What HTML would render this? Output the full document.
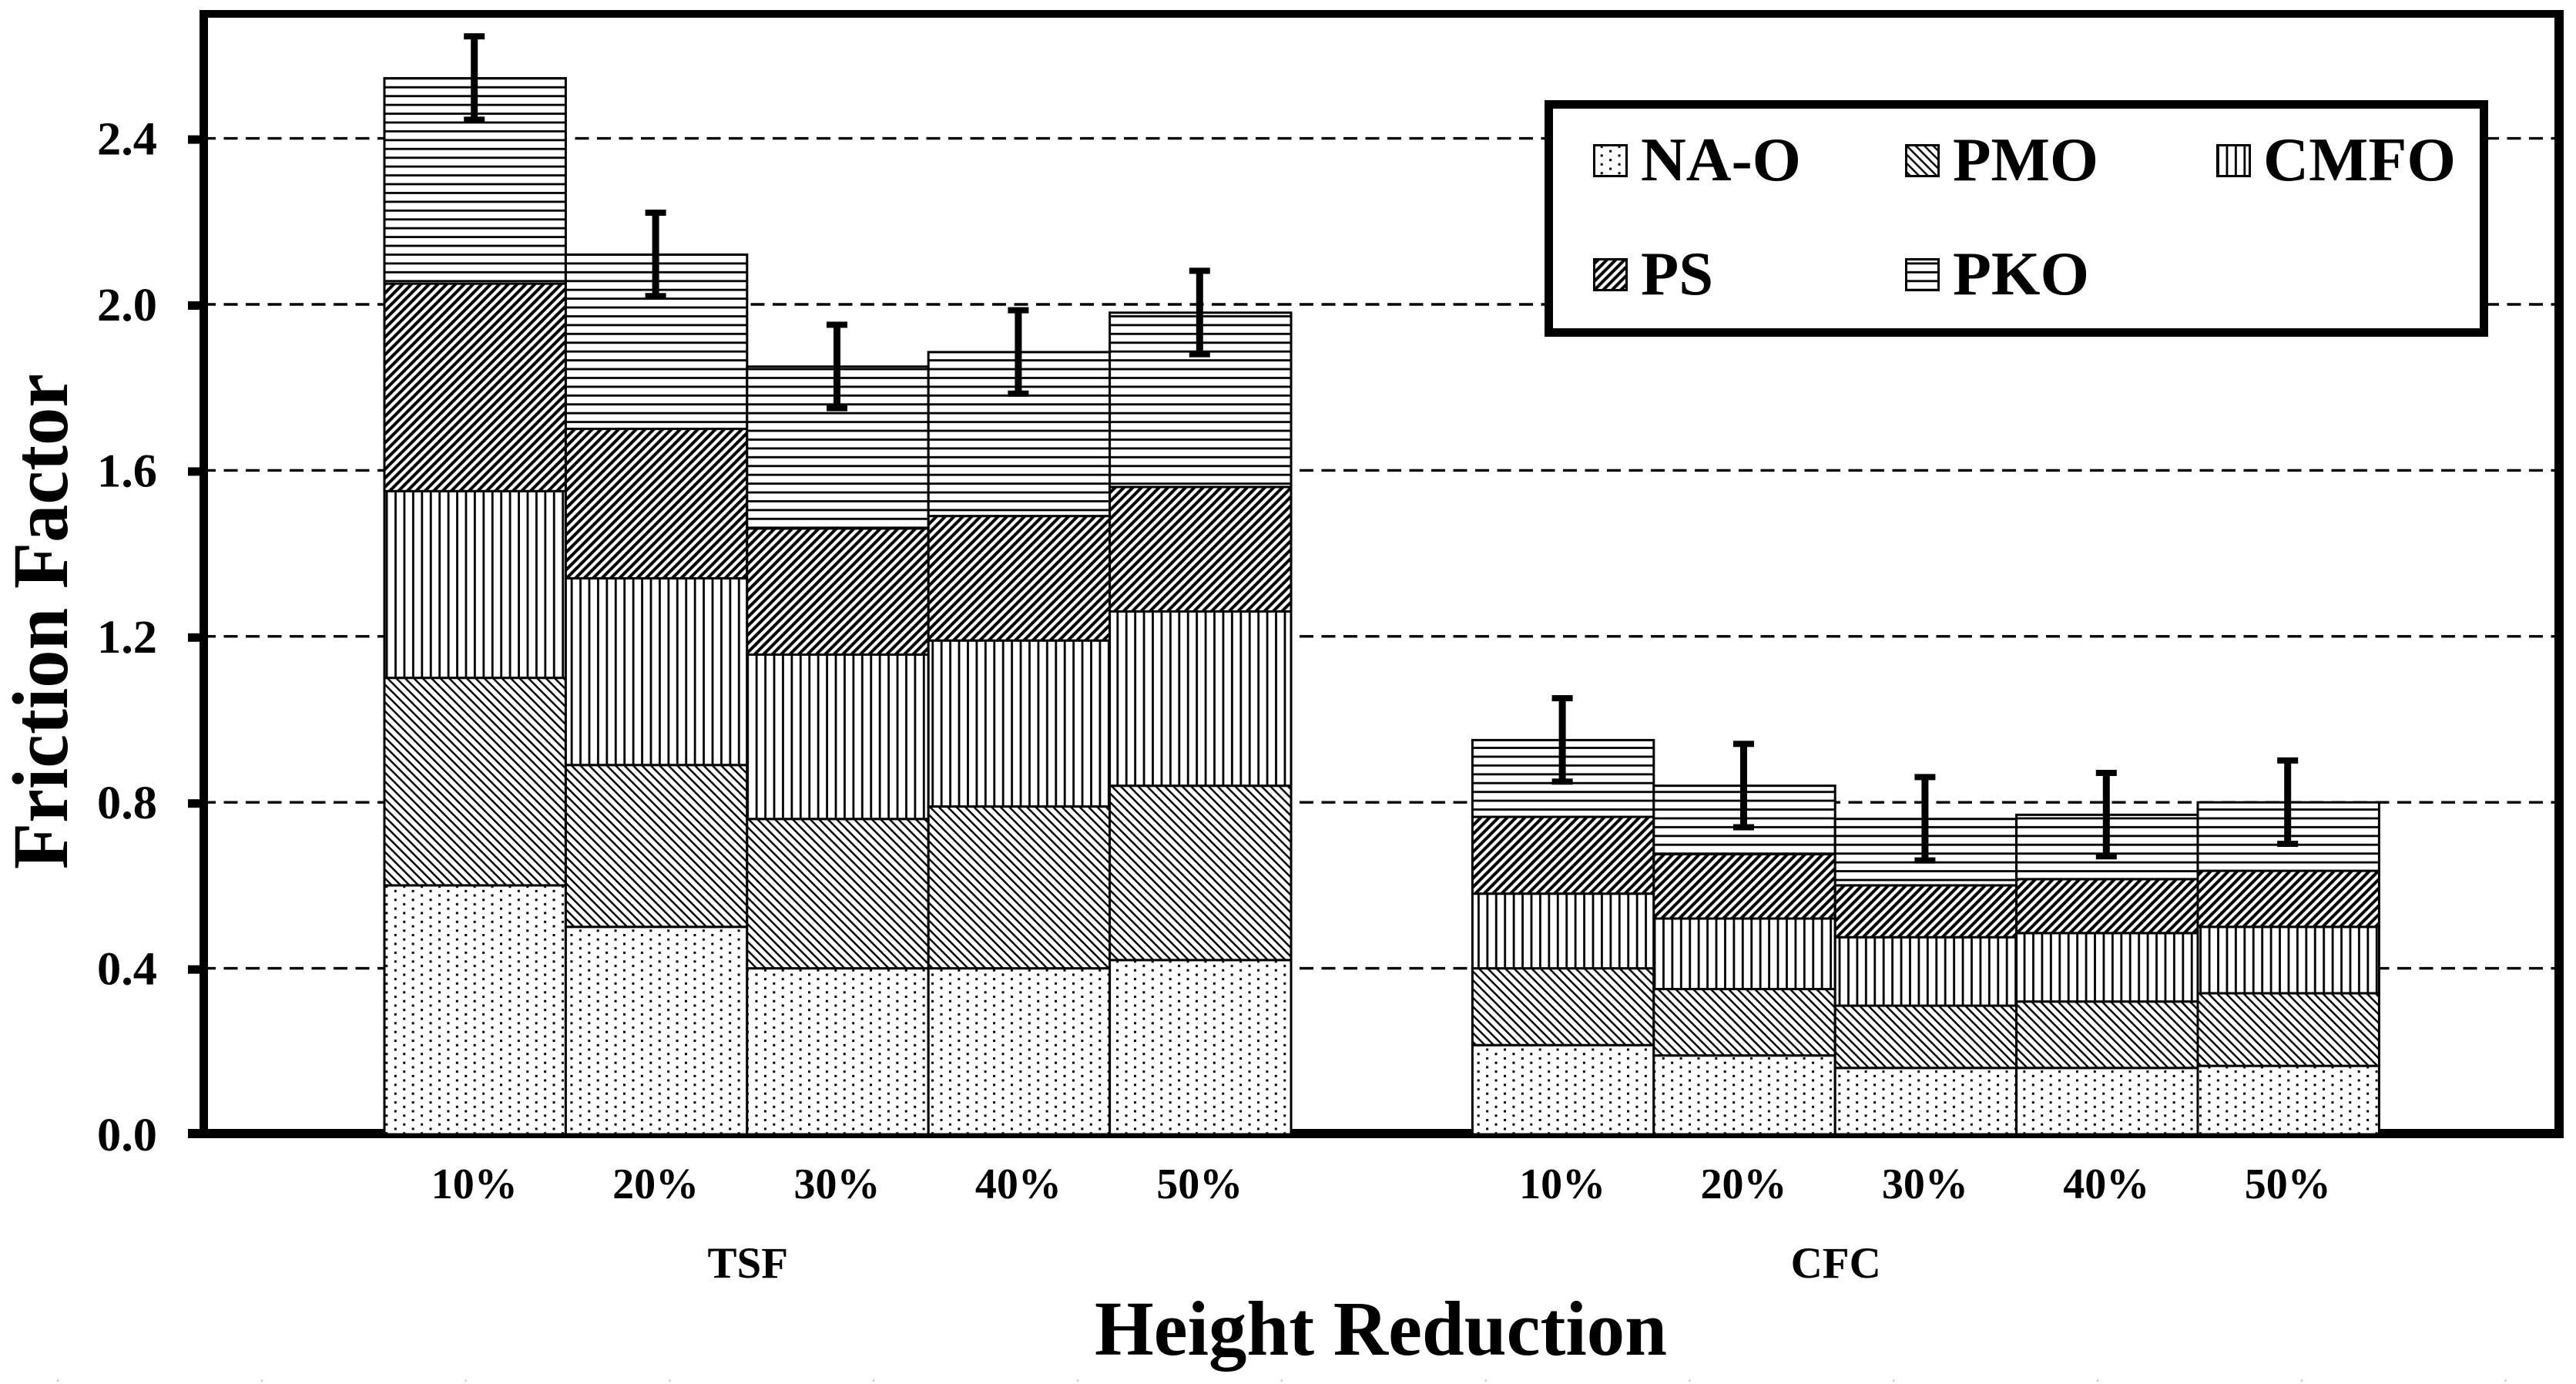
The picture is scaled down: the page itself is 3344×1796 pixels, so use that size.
<!DOCTYPE html>
<html>
<head>
<meta charset="utf-8">
<title>Friction Factor vs Height Reduction</title>
<style>
html,body{margin:0;padding:0;background:#fff;}
svg{display:block;}
text{font-family:"Liberation Serif",serif;font-weight:bold;fill:#000;}
</style>
</head>
<body>
<svg id="chart" xmlns="http://www.w3.org/2000/svg" width="3344" height="1796" viewBox="0 0 3344 1796">
<defs>
<pattern id="p-dots" patternUnits="userSpaceOnUse" width="22.86" height="11.43" patternTransform="translate(10.4 1.9)">
<rect x="-1.5" y="-1.5" width="3" height="3" fill="#000"/><rect x="21.36" y="-1.5" width="3" height="3" fill="#000"/>
<rect x="-1.5" y="9.93" width="3" height="3" fill="#000"/><rect x="21.36" y="9.93" width="3" height="3" fill="#000"/>
<rect x="9.93" y="4.2" width="3" height="3" fill="#000"/>
</pattern>
<pattern id="p-down" patternUnits="userSpaceOnUse" width="11.43" height="11.43">
<path d="M-3 -3L14.43 14.43M-3 8.43L3 14.43M8.43 -3L14.43 3" stroke="#000" stroke-width="2.4" fill="none"/>
</pattern>
<pattern id="p-vert" patternUnits="userSpaceOnUse" width="11.43" height="11.43" patternTransform="translate(10.6 0)">
<rect x="-1.4" y="0" width="2.8" height="11.43" fill="#000"/><rect x="10.03" y="0" width="2.8" height="11.43" fill="#000"/>
</pattern>
<pattern id="p-up" patternUnits="userSpaceOnUse" width="11.43" height="11.43">
<path d="M-3 14.43L14.43 -3M-3 3L3 -3M8.43 14.43L14.43 8.43" stroke="#000" stroke-width="4" fill="none"/>
</pattern>
<pattern id="p-horz" patternUnits="userSpaceOnUse" width="11.43" height="11.43" patternTransform="translate(0 10.4)">
<rect x="0" y="-1.4" width="11.43" height="2.8" fill="#000"/><rect x="0" y="10.03" width="11.43" height="2.8" fill="#000"/>
</pattern>
</defs>
<rect x="0" y="0" width="3344" height="1796" fill="#fff"/>
<g id="grid"></g>
<rect x="244" y="1465" width="3084" height="12" fill="#000"/>
<g id="ticks"></g>
<g id="bars"></g>
<g id="errors"></g>
<g id="xlabels"></g>
<rect x="259" y="13" width="11" height="1458" fill="#000"/>
<rect x="259" y="13" width="3069" height="10" fill="#000"/>
<rect x="3316" y="13" width="12" height="1464" fill="#000"/>
<text transform="translate(87 1128) rotate(-90)" font-size="103" textLength="643" lengthAdjust="spacingAndGlyphs">Friction Factor</text>
<text x="1421" y="1758" font-size="101" textLength="743" lengthAdjust="spacingAndGlyphs">Height Reduction</text>
<g>
<rect x="2010.5" y="135.5" width="1214" height="296" fill="#fff" stroke="#000" stroke-width="11"/>
<g>
<rect x="2069.5" y="188.5" width="42" height="40" fill="#fff"/>
<rect x="2069.5" y="188.5" width="42" height="40" fill="url(#p-dots)" stroke="#000" stroke-width="3"/>
<text x="2130" y="234" font-size="80" textLength="208" lengthAdjust="spacingAndGlyphs">NA-O</text>
</g>
<g>
<rect x="2474.5" y="188.5" width="42" height="40" fill="#fff"/>
<rect x="2474.5" y="188.5" width="42" height="40" fill="url(#p-down)" stroke="#000" stroke-width="3"/>
<text x="2535" y="234" font-size="80" textLength="189" lengthAdjust="spacingAndGlyphs">PMO</text>
</g>
<g>
<rect x="2878.5" y="188.5" width="42" height="40" fill="#fff"/>
<rect x="2878.5" y="188.5" width="42" height="40" fill="url(#p-vert)" stroke="#000" stroke-width="3"/>
<text x="2938" y="234" font-size="80" textLength="250" lengthAdjust="spacingAndGlyphs">CMFO</text>
</g>
<g>
<rect x="2069.5" y="336.5" width="42" height="40" fill="#fff"/>
<rect x="2069.5" y="336.5" width="42" height="40" fill="url(#p-up)" stroke="#000" stroke-width="3"/>
<text x="2130" y="382" font-size="80" textLength="94" lengthAdjust="spacingAndGlyphs">PS</text>
</g>
<g>
<rect x="2474.5" y="336.5" width="42" height="40" fill="#fff"/>
<rect x="2474.5" y="336.5" width="42" height="40" fill="url(#p-horz)" stroke="#000" stroke-width="3"/>
<text x="2535" y="382" font-size="80" textLength="177" lengthAdjust="spacingAndGlyphs">PKO</text>
</g>
</g>
<g id="edge"></g>
</svg>
<script>
var groupNames = ['TSF', 'CFC'];
var reductions = ['10%', '20%', '30%', '40%', '50%'];
var seriesNames = ['NA-O', 'PMO', 'CMFO', 'PS', 'PKO'];
var seriesFills = ['p-dots', 'p-down', 'p-vert', 'p-up', 'p-horz'];
var naO  = [0.60, 0.50, 0.40, 0.40, 0.42, 0.215, 0.19, 0.16, 0.16, 0.165];
var pmo  = [0.50, 0.39, 0.36, 0.39, 0.42, 0.185, 0.16, 0.15, 0.16, 0.175];
var cmfo = [0.45, 0.45, 0.396, 0.40, 0.42, 0.18, 0.17, 0.165, 0.165, 0.16];
var ps   = [0.50, 0.36, 0.304, 0.30, 0.30, 0.185, 0.155, 0.125, 0.13, 0.135];
var pko  = [0.495, 0.42, 0.39, 0.395, 0.42, 0.185, 0.165, 0.16, 0.155, 0.165];
var errors = [0.10, 0.10, 0.10, 0.10, 0.10, 0.10, 0.10, 0.10, 0.10, 0.10];
var yTicks = [0, 0.4, 0.8, 1.2, 1.6, 2.0, 2.4];
var yTickLabels = ['0.0', '0.4', '0.8', '1.2', '1.6', '2.0', '2.4'];
var gridTicks = [0.4, 0.8, 1.2, 1.6, 2.0, 2.4];

var NS = 'http://www.w3.org/2000/svg';
function yScale(v) { return 1472 - v * 538.5; }
function slotX(s) { return 499 + s * 235.4; }
function barSlot(i) { return i < 5 ? i : i + 1; }
function make(tag, parent) {
  var el = document.createElementNS(NS, tag);
  parent.appendChild(el);
  return el;
}

var gridG = document.getElementById('grid');
gridTicks.forEach(function (v) {
  var l = make('line', gridG);
  
  
  l.setAttribute('x1', 262);
  l.setAttribute('x2', 3316);
  l.setAttribute('y1', yScale(v));
  l.setAttribute('y2', yScale(v));
  l.setAttribute('stroke', '#000');
  l.setAttribute('stroke-width', 3.4);
  l.setAttribute('stroke-dasharray', '18 10.5');
});

var tickG = document.getElementById('ticks');
yTicks.forEach(function (v, i) {
  if (v > 0) {
    var t = make('rect', tickG);
    
    
    t.setAttribute('x', 244);
    t.setAttribute('y', yScale(v) - 4);
    t.setAttribute('width', 16);
    t.setAttribute('height', 11);
    t.setAttribute('fill', '#000');
  }
  var lab = make('text', tickG);
  
  
  lab.setAttribute('x', 126);
  lab.setAttribute('y', yScale(v) + 21);
  lab.setAttribute('font-size', 61);
  lab.setAttribute('textLength', 78);
  lab.setAttribute('lengthAdjust', 'spacingAndGlyphs');
  lab.textContent = yTickLabels[i];
});

var barsG = document.getElementById('bars');
var seriesValues = [naO, pmo, cmfo, ps, pko];
var totals = [];
naO.forEach(function (_, i) {
  var base = 0;
  var x0 = slotX(barSlot(i));
  var w = slotX(barSlot(i) + 1) - x0;
  seriesValues.forEach(function (vals, s) {
    var top = base + vals[i];
    var h = yScale(base) - yScale(top);
    var bg = make('rect', barsG);
    
    
    bg.setAttribute('x', x0);
    bg.setAttribute('y', yScale(top));
    bg.setAttribute('width', w);
    bg.setAttribute('height', h);
    bg.setAttribute('fill', '#fff');
    var r = make('rect', barsG);
    
    
    r.setAttribute('x', x0);
    r.setAttribute('y', yScale(top));
    r.setAttribute('width', w);
    r.setAttribute('height', h);
    r.setAttribute('fill', 'url(#' + seriesFills[s] + ')');
    r.setAttribute('stroke', '#000');
    r.setAttribute('stroke-width', 3);
    base = top;
  });
  totals.push(base);
});

var errG = document.getElementById('errors');
totals.forEach(function (tot, i) {
  var cx = slotX(barSlot(i) + 0.5) - 1;
  var hi = yScale(tot + errors[i]);
  var lo = yScale(tot - errors[i]);
  var stem = make('rect', errG);
  
  
  stem.setAttribute('x', cx - 4.5);
  stem.setAttribute('y', hi - 4);
  stem.setAttribute('width', 9);
  stem.setAttribute('height', lo - hi + 4);
  stem.setAttribute('fill', '#000');
  var capTop = make('rect', errG);
  
  
  capTop.setAttribute('x', cx - 13.5);
  capTop.setAttribute('y', hi - 4.5);
  capTop.setAttribute('width', 27);
  capTop.setAttribute('height', 8);
  capTop.setAttribute('fill', '#000');
  var capBot = make('rect', errG);
  
  
  capBot.setAttribute('x', cx - 13.5);
  capBot.setAttribute('y', lo - 4);
  capBot.setAttribute('width', 27);
  capBot.setAttribute('height', 8);
  capBot.setAttribute('fill', '#000');
});

var xG = document.getElementById('xlabels');
naO.forEach(function (_, i) {
  var t = make('text', xG);
  
  
  t.setAttribute('x', slotX(barSlot(i) + 0.5) - 1);
  t.setAttribute('y', 1555);
  t.setAttribute('text-anchor', 'middle');
  t.setAttribute('font-size', 56);
  t.textContent = reductions[i % 5];
});
groupNames.forEach(function (name, g) {
  var t = make('text', xG);
  
  
  t.setAttribute('x', slotX(2 + g * 6) + 1);
  t.setAttribute('y', 1658);
  t.setAttribute('text-anchor', 'middle');
  t.setAttribute('font-size', 57);
  t.textContent = name;
});

var edgeG = document.getElementById('edge');
for (var k = 0; k < 13; k++) {
  var m = make('rect', edgeG);
  
  
  m.setAttribute('x', 74 + k * 264.8);
  m.setAttribute('y', 1790);
  m.setAttribute('width', 2);
  m.setAttribute('height', 3);
  m.setAttribute('fill', '#c8c8c8');
}
</script>
</body>
</html>
